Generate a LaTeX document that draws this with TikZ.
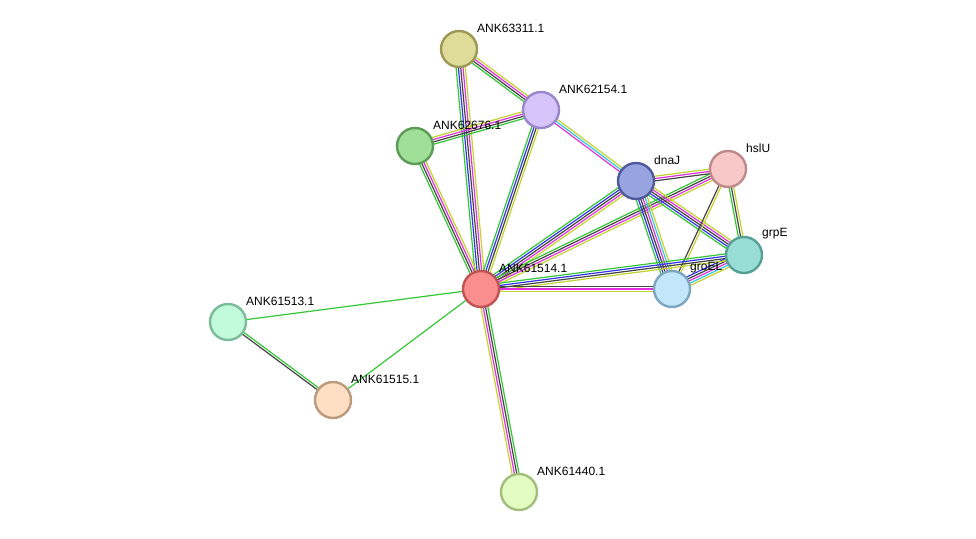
\documentclass[tikz,border=0pt]{standalone}
\usepackage{fontspec}
\setmainfont{Liberation Sans}
\usetikzlibrary{calc,backgrounds}
\definecolor{sGreen}{HTML}{33C833}
\definecolor{sBlue}{HTML}{3333F0}
\definecolor{sBlack}{HTML}{454545}
\definecolor{sMag}{HTML}{E030E0}
\definecolor{sCyan}{HTML}{30C8E0}
\definecolor{sYel}{HTML}{C4D42C}
\tikzset{
  prot/.style={circle,line width=2.4pt,minimum size=36pt,inner sep=0pt},
  lbl/.style ={anchor=west,inner sep=0pt,font=\fontsize{12}{13}\selectfont,text=black},
  lnkline/.style={line width=1.2pt},
}
% node with its name label (fill and border given as hex)
\newcommand\prot[6]{%
  \definecolor{f#1}{HTML}{#4}\definecolor{d#1}{HTML}{#5}%
  \node[prot,fill=f#1,draw=d#1] (#1) at (#2,#3) {};
  \node[lbl] (l#1) at ($(#1)+(18,-21)$) {#6};}
% bundle of parallel evidence lines
\newcommand\lnk[4]{%
  \foreach \c [count=\i] in {#4} {
    \pgfmathsetmacro\o{(\i-(#3+1)/2)*2.3}
    \draw[\c,lnkline] let \p1=($(#2)-(#1)$), \n1={atan2(\y1,\x1)+90} in
      ([shift={(\n1:\o pt)}]#1.center) -- ([shift={(\n1:\o pt)}]#2.center);
  }}

\begin{document}
\begin{tikzpicture}[x=1pt,y=-1pt]
  \useasboundingbox (0,0) rectangle (976,538);
  \prot{a63311}{459}{49}{DFDB98}{9C9856}{ANK63311.1}
  \prot{a62154}{541}{110}{D6C4FB}{9A86CA}{ANK62154.1}
  \prot{a62676}{415}{146}{9FDF98}{5C9C56}{ANK62676.1}
  \prot{dnaJ}{636}{181}{98A4E0}{4E5A9C}{dnaJ}
  \prot{hslU}{728}{169}{F8C8C8}{BF8A8A}{hslU}
  \prot{grpE}{744}{255}{98DED6}{56A096}{grpE}
  \prot{groEL}{672}{289}{C2E6FA}{7EA6BE}{groEL}
  \prot{a61514}{481}{289}{FA8E8E}{C05454}{ANK61514.1}
  \prot{a61513}{228}{322}{C2FADC}{7CBC9A}{ANK61513.1}
  \prot{a61515}{333}{400}{FDDEC2}{BC9A7C}{ANK61515.1}
  \prot{a61440}{519}{492}{E2FCC2}{A2BE7C}{ANK61440.1}

  \begin{scope}[on background layer]
    \fill[white] (0,0) rectangle (976,538);
    \lnk{a63311}{a62154}{4}{sGreen,sBlack,sMag,sYel}
    \lnk{a63311}{a61514}{5}{sGreen,sBlue,sBlack,sMag,sYel}
    \lnk{a62676}{a62154}{4}{sGreen,sBlack,sMag,sYel}
    \lnk{a62676}{a61514}{4}{sGreen,sBlack,sMag,sYel}
    \lnk{a62154}{a61514}{4}{sGreen,sBlue,sBlack,sYel}
    \lnk{a62154}{dnaJ}{3}{sMag,sCyan,sYel}
    \lnk{dnaJ}{a61514}{5}{sGreen,sBlue,sBlack,sMag,sYel}
    \lnk{hslU}{a61514}{4}{sGreen,sBlack,sMag,sYel}
    \lnk{dnaJ}{hslU}{3}{sBlack,sMag,sYel}
    \lnk{dnaJ}{grpE}{5}{sGreen,sBlue,sBlack,sMag,sYel}
    \lnk{dnaJ}{groEL}{6}{sGreen,sBlue,sBlack,sMag,sCyan,sYel}
    \lnk{hslU}{grpE}{3}{sGreen,sBlack,sYel}
    \lnk{hslU}{groEL}{2}{sBlack,sYel}
    \lnk{grpE}{groEL}{5}{sBlue,sBlack,sMag,sCyan,sYel}
    \lnk{grpE}{a61514}{4}{sGreen,sBlue,sBlack,sYel}
    \lnk{groEL}{a61514}{3}{sBlack,sMag,sYel}
    \lnk{a61513}{a61514}{1}{sGreen}
    \lnk{a61515}{a61514}{1}{sGreen}
    \lnk{a61513}{a61515}{2}{sBlack,sGreen}
    \lnk{a61440}{a61514}{4}{sGreen,sBlack,sMag,sYel}
  \end{scope}
\end{tikzpicture}
\end{document}
